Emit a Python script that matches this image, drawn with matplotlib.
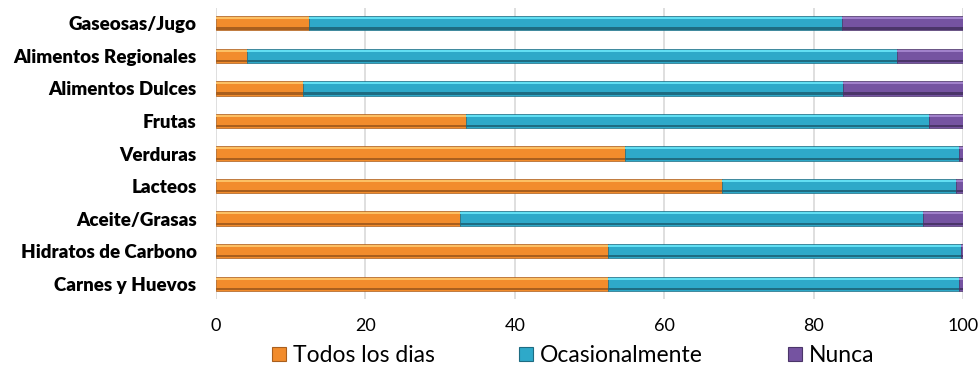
import matplotlib
matplotlib.use("Agg")
import matplotlib.pyplot as plt
import numpy as np
from matplotlib.lines import Line2D

# Frecuencia de consumo por grupo de alimentos (%)
categorias = ["Carnes y Huevos", "Hidratos de Carbono", "Aceite/Grasas", "Lacteos",
              "Verduras", "Frutas", "Alimentos Dulces", "Alimentos Regionales",
              "Gaseosas/Jugo"]
todos_los_dias = [52.5, 52.5, 32.7, 67.7, 54.8, 33.5, 11.6, 4.2, 12.4]
ocasionalmente = [47.0, 47.2, 61.9, 31.4, 44.6, 61.9, 72.3, 86.9, 71.4]
nunca = [0.5, 0.3, 5.4, 0.9, 0.6, 4.6, 16.1, 8.9, 16.2]

series = ["Todos los dias", "Ocasionalmente", "Nunca"]
# color principal, brillo superior, sombra inferior
colores = [("#F28C2C", "#FCC064", "#A95F1E"),
           ("#2EA9C9", "#62DFF3", "#1E6C82"),
           ("#7553A1", "#A181CB", "#4B3569")]

plt.rcParams['font.family'] = ['Lato', 'DejaVu Sans']

fig = plt.figure(figsize=(9.79, 3.67), dpi=100)
ax = fig.add_axes([216 / 979, 1 - 299 / 367, 747 / 979, 291 / 367])

y = np.arange(len(categorias))
alto = 0.44
izq = np.zeros(len(categorias))
for valores, (c, claro, oscuro) in zip([todos_los_dias, ocasionalmente, nunca], colores):
    valores = np.array(valores)
    ax.barh(y, valores, left=izq, height=alto, color=c, edgecolor=oscuro,
            linewidth=0.5, zorder=3)
    # efecto de bisel: franja clara arriba y oscura abajo
    ax.barh(y + alto * 0.36, valores, left=izq, height=alto * 0.14,
            color=claro, linewidth=0, zorder=4)
    ax.barh(y - alto * 0.36, valores, left=izq, height=alto * 0.16,
            color=oscuro, linewidth=0, zorder=4)
    izq = izq + valores

ax.set_xlim(0, 100)
ax.set_ylim(-0.47, len(categorias) - 0.53)
ax.set_xticks([0, 20, 40, 60, 80, 100])
ax.set_yticks(y)
ax.set_yticklabels(categorias, fontsize=13.5, fontweight='heavy')
ax.tick_params(axis='y', length=0, pad=14)
ax.tick_params(axis='x', length=0, pad=14, labelsize=13)
ax.grid(axis='x', color='#D9D9D9', linewidth=1.2, zorder=0)
for s in ax.spines.values():
    s.set_visible(False)

handles = [Line2D([], [], marker='s', linestyle='none', markersize=10,
                  markerfacecolor=c, markeredgecolor=o, markeredgewidth=0.8)
           for c, _, o in colores]
fig.legend(handles, series, loc='center', bbox_to_anchor=(572 / 979, 1 - 356 / 367),
           ncol=3, frameon=False, fontsize=16.5, columnspacing=3.6,
           handletextpad=0.2, handlelength=0.8)

fig.savefig("out.png", dpi=100)
